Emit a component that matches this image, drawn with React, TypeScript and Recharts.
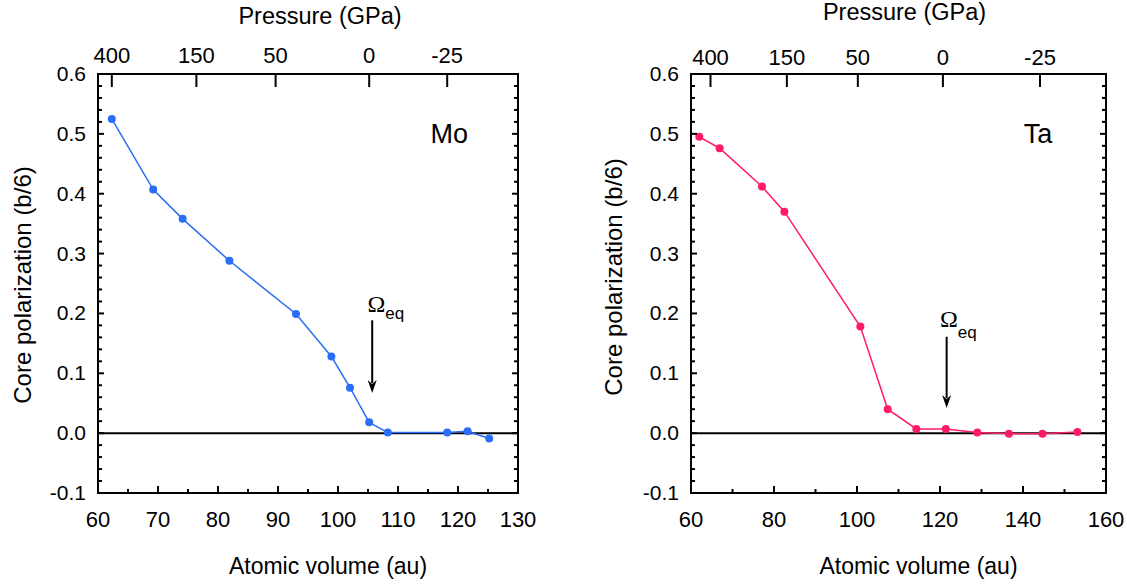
import { LineChart, Line, XAxis, YAxis, ReferenceLine, ReferenceDot } from 'recharts';

const FONT = '"Liberation Sans", Arial, Helvetica, sans-serif';
const SERIF = '"Liberation Serif", "Times New Roman", serif';

// Mo: atomic volume (au) vs core polarization (b/6)
const moVolume = [62.3, 69.2, 74.1, 81.9, 93.0, 98.9, 102.0, 105.2, 108.3, 118.2, 121.6, 125.2];
const moPolarization = [0.525, 0.407, 0.358, 0.288, 0.199, 0.128, 0.076, 0.018, 0.001, 0.001, 0.003, -0.009];

// Ta
const taVolume = [62.0, 66.9, 77.1, 82.5, 100.8, 107.4, 114.3, 121.4, 129.0, 136.6, 144.7, 153.1];
const taPolarization = [0.495, 0.476, 0.412, 0.370, 0.178, 0.040, 0.007, 0.007, 0.001, -0.001, -0.001, 0.002];

// top axis: pressure (GPa) at the matching atomic volume
const pressureLabels = ['400', '150', '50', '0', '-25'];
const moPressureVolume = [62.3, 76.4, 89.6, 105.2, 118.2];
const taPressureVolume = [64.7, 83.1, 100.2, 120.7, 144.1];

const moVolumeTicks = [60, 70, 80, 90, 100, 110, 120, 130];
const taVolumeTicks = [60, 80, 100, 120, 140, 160];
const polarizationTicks = [-0.1, 0.0, 0.1, 0.2, 0.3, 0.4, 0.5, 0.6];
const polarizationLabels = ['-0.1', '0.0', '0.1', '0.2', '0.3', '0.4', '0.5', '0.6'];

// equilibrium volume markers
const moEquilibrium = 105.7;
const taEquilibrium = 121.6;

const withMinor = (majors: number[], parts: number) => {
  const out: number[] = [];
  for (let i = 0; i < majors.length; i++) {
    out.push(majors[i]);
    if (i < majors.length - 1) {
      const step = (majors[i + 1] - majors[i]) / parts;
      for (let k = 1; k < parts; k++) out.push(majors[i] + step * k);
    }
  }
  return out;
};

const findIndex = (list: number[], v: number) => list.findIndex((m) => Math.abs(m - v) < 1e-6);

const txt = { fontFamily: FONT, fill: '#000' };

const BottomTick = (props: any) => {
  const { x, y, payload, majors } = props;
  const major = findIndex(majors, payload.value) >= 0;
  return (
    <g>
      <line x1={x} x2={x} y1={y} y2={y - (major ? 7 : 4)} stroke="#000" strokeWidth={2} />
      {major && (
        <text x={x} y={y + 34} textAnchor="middle" fontSize={22} {...txt}>
          {payload.value}
        </text>
      )}
    </g>
  );
};

const TopTick = (props: any) => {
  const { x, y, payload, positions, dy } = props;
  const i = findIndex(positions, payload.value);
  return (
    <g>
      <line x1={x} x2={x} y1={y} y2={y + 13} stroke="#000" strokeWidth={2} />
      <text x={x} y={y - dy} textAnchor="middle" fontSize={22} {...txt}>
        {pressureLabels[i]}
      </text>
    </g>
  );
};

const LeftTick = (props: any) => {
  const { x, y, payload } = props;
  const i = findIndex(polarizationTicks, payload.value);
  return (
    <g>
      <line x1={x} x2={x + (i >= 0 ? 6 : 4)} y1={y} y2={y} stroke="#000" strokeWidth={2} />
      {i >= 0 && (
        <text x={x - 12} y={y + 7} textAnchor="end" fontSize={21} {...txt}>
          {polarizationLabels[i]}
        </text>
      )}
    </g>
  );
};

const RightTick = (props: any) => {
  const { x, y, payload } = props;
  const major = findIndex(polarizationTicks, payload.value) >= 0;
  return <line x1={x} x2={x - (major ? 6 : 4)} y1={y} y2={y} stroke="#000" strokeWidth={2} />;
};

const Arrow = (props: any) => {
  const { x1, y1, x2, y2 } = props;
  return (
    <g>
      <line x1={x1} y1={y1} x2={x2} y2={y2 - 10} stroke="#000" strokeWidth={2} />
      <polygon points={`${x2 - 4.5},${y2 - 13} ${x2},${y2 - 9} ${x2 + 4.5},${y2 - 13} ${x2},${y2}`} fill="#000" />
    </g>
  );
};

type PanelProps = {
  left: number;
  width: number;
  yAxisWidth: number;
  rightWidth: number;
  volume: number[];
  polarization: number[];
  color: string;
  volumeTicks: number[];
  pressureVolume: number[];
  name: string;
  nameAt: [number, number];
  equilibrium: number;
  arrowFrom: number;
  arrowTo: number;
  omegaAt: [number, number];
  eqDy: number;
  topLabelDy: number;
  topTitleDx: number;
  topTitleY: number;
  bottomTitleDx: number;
  yTitleX: number;
  yTitleDy: number;
};

function Panel(p: PanelProps) {
  const data = p.volume.map((v, i) => ({ volume: v, value: p.polarization[i] }));
  const domain: [number, number] = [p.volumeTicks[0], p.volumeTicks[p.volumeTicks.length - 1]];
  const axisLine = { stroke: '#000', strokeWidth: 2, strokeLinecap: 'square' as const };

  return (
    <div style={{ position: 'absolute', left: p.left, top: 0 }}>
      <LineChart width={p.width} height={584} data={data} margin={{ top: 0, right: 0, bottom: 0, left: 0 }}>
        <XAxis
          xAxisId="bottom"
          type="number"
          dataKey="volume"
          domain={domain}
          ticks={withMinor(p.volumeTicks, 2)}
          interval={0}
          height={91}
          tickSize={0}
          tickMargin={0}
          tickLine={false}
          axisLine={axisLine}
          tick={(t: any) => <BottomTick {...t} majors={p.volumeTicks} />}
          label={{
            content: (l: any) => {
              const vb = l.viewBox;
              return (
                <text x={vb.x + vb.width / 2 + p.bottomTitleDx} y={vb.y + 81} textAnchor="middle" fontSize={23} {...txt}>
                  Atomic volume (au)
                </text>
              );
            },
          }}
        />
        <XAxis
          xAxisId="top"
          orientation="top"
          type="number"
          dataKey="volume"
          domain={domain}
          ticks={p.pressureVolume}
          interval={0}
          height={74}
          tickSize={0}
          tickMargin={0}
          tickLine={false}
          axisLine={axisLine}
          tick={(t: any) => <TopTick {...t} positions={p.pressureVolume} dy={p.topLabelDy} />}
          label={{
            content: (l: any) => {
              const vb = l.viewBox;
              return (
                <text x={vb.x + vb.width / 2 + p.topTitleDx} y={p.topTitleY} textAnchor="middle" fontSize={23.5} {...txt}>
                  Pressure (GPa)
                </text>
              );
            },
          }}
        />
        <YAxis
          yAxisId="left"
          type="number"
          domain={[-0.1, 0.6]}
          ticks={withMinor(polarizationTicks, 5)}
          interval={0}
          width={p.yAxisWidth}
          tickSize={0}
          tickMargin={0}
          tickLine={false}
          axisLine={axisLine}
          allowDataOverflow
          tick={(t: any) => <LeftTick {...t} />}
          label={{
            content: (l: any) => {
              const vb = l.viewBox;
              const cx = p.yTitleX;
              const cy = vb.y + vb.height / 2 + p.yTitleDy;
              return (
                <text x={cx} y={cy} transform={`rotate(-90, ${cx}, ${cy})`} textAnchor="middle" fontSize={24} {...txt}>
                  Core polarization (b/6)
                </text>
              );
            },
          }}
        />
        <YAxis
          yAxisId="right"
          orientation="right"
          type="number"
          domain={[-0.1, 0.6]}
          ticks={withMinor(polarizationTicks, 5)}
          interval={0}
          width={p.rightWidth}
          tickSize={0}
          tickMargin={0}
          tickLine={false}
          axisLine={axisLine}
          allowDataOverflow
          tick={(t: any) => <RightTick {...t} />}
        />
        <ReferenceLine xAxisId="bottom" yAxisId="left" y={0} stroke="#000" strokeWidth={2} />
        <ReferenceLine
          xAxisId="bottom"
          yAxisId="left"
          segment={[
            { x: p.equilibrium, y: p.arrowFrom },
            { x: p.equilibrium, y: p.arrowTo },
          ]}
          shape={(s: any) => <Arrow {...s} />}
        />
        <ReferenceDot
          xAxisId="bottom"
          yAxisId="left"
          x={p.omegaAt[0]}
          y={p.omegaAt[1]}
          r={0}
          shape={(s: any) => (
            <text x={s.cx} y={s.cy} fill="#000">
              <tspan fontFamily={SERIF} fontSize={24}>Ω</tspan>
              <tspan fontFamily={FONT} fontSize={17} dy={p.eqDy}>eq</tspan>
            </text>
          )}
        />
        <ReferenceDot
          xAxisId="bottom"
          yAxisId="left"
          x={p.nameAt[0]}
          y={p.nameAt[1]}
          r={0}
          shape={(s: any) => (
            <text x={s.cx} y={s.cy} fontSize={27} {...txt}>
              {p.name}
            </text>
          )}
        />
        <Line
          xAxisId="bottom"
          yAxisId="left"
          type="linear"
          dataKey="value"
          stroke={p.color}
          strokeWidth={1.5}
          dot={{ r: 4, fill: p.color, stroke: p.color, strokeWidth: 0 }}
          isAnimationActive={false}
        />
      </LineChart>
    </div>
  );
}

export default function App() {
  return (
    <div style={{ position: 'absolute', left: 0, top: 0, width: 1127, height: 584, background: '#fff', fontFamily: FONT }}>
      <Panel
        left={0}
        width={560}
        yAxisWidth={98}
        rightWidth={42}
        volume={moVolume}
        polarization={moPolarization}
        color="#2A6EF5"
        volumeTicks={moVolumeTicks}
        pressureVolume={moPressureVolume}
        name="Mo"
        nameAt={[115.4, 0.485]}
        equilibrium={moEquilibrium}
        arrowFrom={0.1885}
        arrowTo={0.067}
        omegaAt={[104.9, 0.203]}
        eqDy={7}
        topLabelDy={11}
        topTitleDx={12}
        topTitleY={24}
        bottomTitleDx={20}
        yTitleX={31}
        yTitleDy={1.5}
      />
      <Panel
        left={560}
        width={567}
        yAxisWidth={131}
        rightWidth={21}
        volume={taVolume}
        polarization={taPolarization}
        color="#FF1A6C"
        volumeTicks={taVolumeTicks}
        pressureVolume={taPressureVolume}
        name="Ta"
        nameAt={[140.2, 0.485]}
        equilibrium={taEquilibrium}
        arrowFrom={0.161}
        arrowTo={0.042}
        omegaAt={[120.0, 0.178]}
        eqDy={11}
        topLabelDy={9}
        topTitleDx={6}
        topTitleY={20}
        bottomTitleDx={20}
        yTitleX={62}
        yTitleDy={-6.5}
      />
    </div>
  );
}
